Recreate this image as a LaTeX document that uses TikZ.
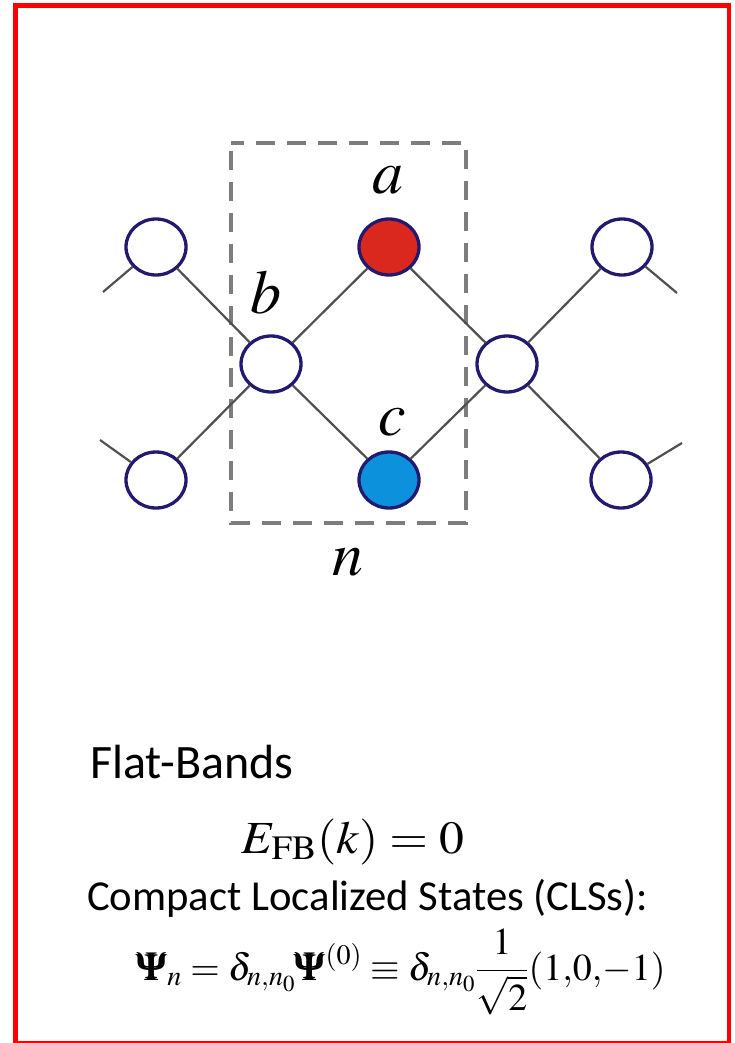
\documentclass[tikz,border=0pt]{standalone}
\usepackage{amsmath}
\usepackage{mathptmx}
\usepackage[no-math]{fontspec}
\newfontfamily\calib{Carlito}
\usetikzlibrary{shapes.geometric}
\definecolor{siteblue}{RGB}{34,26,110}
\definecolor{sitered}{RGB}{218,40,30}
\definecolor{sitecyan}{RGB}{12,145,220}
\definecolor{bondgray}{RGB}{80,80,80}
\definecolor{boxgray}{RGB}{125,125,125}
\begin{document}
\begin{tikzpicture}[x=1pt,y=-1pt,
  site/.style={ellipse, draw=siteblue, line width=3.3pt, fill=white, minimum width=60pt, minimum height=56pt, inner sep=0pt},
  bond/.style={draw=bondgray, line width=2.2pt},
  cellbox/.style={draw=boxgray, line width=3.4pt, dash pattern=on 19pt off 12pt, dash phase=23pt},
  lbl/.style={font=\fontsize{62}{62}\selectfont, inner sep=0pt},
  txt/.style={anchor=base west, inner sep=0pt}]
\useasboundingbox (0,0) rectangle (734,1043);
\draw[red, line width=4.5pt] (15.5,5.5) rectangle (729,1043.5);
% unit cell
\draw[cellbox] (231,143) rectangle (466,523);
% sites
\node[site] (tl) at (156,247) {};
\node[site, fill=sitered] (a) at (389,247) {};
\node[site] (tr) at (622,247) {};
\node[site] (b) at (271,364) {};
\node[site] (rm) at (507,364) {};
\node[site] (bl) at (156,480) {};
\node[site, fill=sitecyan] (c) at (389,480) {};
\node[site] (br) at (621,480) {};
% free ends
\coordinate (etl) at (103,292);
\coordinate (ebl) at (100,440);
\coordinate (etr) at (677,293);
\coordinate (ebr) at (682,443);
% bonds
\draw[bond] (etl) -- (tl);
\draw[bond] (ebl) -- (bl);
\draw[bond] (tl) -- (b);
\draw[bond] (bl) -- (b);
\draw[bond] (b) -- (a);
\draw[bond] (b) -- (c);
\draw[bond] (a) -- (rm);
\draw[bond] (c) -- (rm);
\draw[bond] (rm) -- (tr);
\draw[bond] (rm) -- (br);
\draw[bond] (tr) -- (etr);
\draw[bond] (br) -- (ebr);
% labels
\node[lbl] (la) at (388,180) {$a$};
\node[lbl] (lb) at (266,292) {$b$};
\node[lbl] (lc) at (392,422) {$c$};
\node[lbl] (ln) at (348,562) {$n$};
% texts
\node[txt, font=\calib\fontsize{48}{48}\selectfont] (fb) at (90,778) {Flat-Bands};
\node[txt, font=\fontsize{46}{46}\selectfont] (efb) at (241,853) {\scalebox{1.08}[1]{$E_{\mathrm{FB}}(k)=0$}};
\node[txt, font=\calib\fontsize{42.7}{42.7}\selectfont] (cls) at (87,910) {Compact Localized States (CLSs):};
\node[txt, font=\fontsize{38}{38}\selectfont] (psi) at (137,980) {$\displaystyle \pmb{\Psi}_n=\delta_{n,n_0}\pmb{\Psi}^{(0)}\equiv\delta_{n,n_0}\frac{1}{\sqrt{2}}(1{,}0{,}{-1})$};
\end{tikzpicture}
\end{document}
